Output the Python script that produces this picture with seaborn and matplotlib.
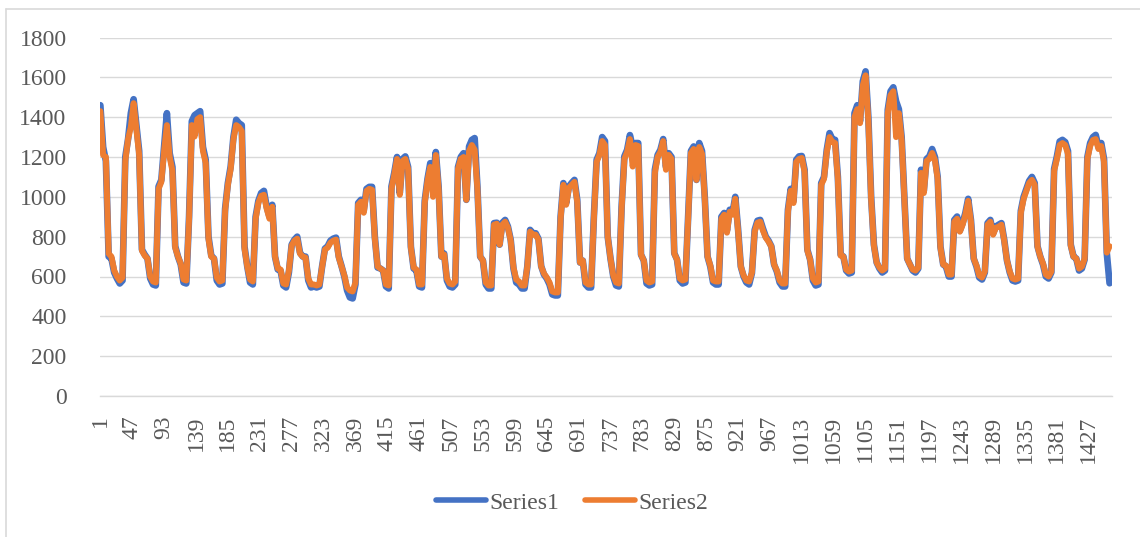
import numpy as np
import pandas as pd
import matplotlib
matplotlib.use("Agg")
import matplotlib.pyplot as plt
from matplotlib.lines import Line2D
import seaborn as sns

# Half-hourly load readings, one row per day (every 4th reading kept)
series1 = [
    1460, 1250, 1180, 700, 690, 620, 590, 565, 580, 1200, 1290, 1420,
    1490, 1360, 1230, 735, 710, 690, 590, 560, 555, 1052, 1085, 1250,
    1420, 1219, 1150, 752, 700, 660, 570, 565, 900, 1380, 1410, 1420,
    1430, 1250, 1186, 800, 705, 690, 580, 560, 565, 940, 1069, 1152,
    1300, 1387, 1370, 1360, 750, 650, 570, 560, 900, 980, 1019, 1030,
    950, 900, 960, 700, 635, 630, 555, 545, 620, 760, 785, 800,
    720, 700, 700, 580, 545, 550, 545, 550, 652, 740, 752, 780,
    790, 795, 700, 652, 600, 530, 495, 490, 560, 969, 985, 930,
    1040, 1050, 1050, 800, 645, 640, 630, 550, 540, 1052, 1120, 1200,
    1019, 1190, 1203, 1150, 750, 640, 630, 550, 545, 980, 1090, 1169,
    1100, 1225, 1050, 700, 715, 580, 550, 545, 560, 1150, 1200, 1219,
    985, 1253, 1286, 1295, 1050, 700, 680, 560, 540, 540, 868, 870,
    760, 870, 884, 851, 785, 640, 570, 560, 540, 540, 650, 834,
    817, 817, 790, 652, 610, 590, 560, 510, 505, 505, 900, 1069,
    969, 1052, 1070, 1085, 985, 670, 680, 560, 545, 545, 900, 1186,
    1219, 1300, 1280, 800, 690, 600, 555, 550, 950, 1203, 1236, 1310,
    1250, 1270, 1270, 710, 680, 565, 555, 560, 1136, 1210, 1236, 1290,
    1150, 1219, 1200, 717, 685, 580, 565, 570, 900, 1230, 1253, 1085,
    1270, 1230, 1000, 700, 650, 570, 560, 560, 900, 919, 830, 935,
    919, 1000, 840, 650, 600, 570, 560, 617, 834, 880, 884, 840,
    800, 780, 752, 660, 625, 570, 550, 550, 935, 1040, 980, 1186,
    1203, 1205, 1136, 735, 685, 580, 555, 560, 1069, 1100, 1236, 1320,
    1290, 1286, 1100, 710, 700, 630, 615, 620, 1420, 1460, 1380, 1580,
    1630, 1400, 1000, 760, 670, 640, 620, 630, 1437, 1530, 1550, 1480,
    1440, 1300, 1000, 690, 660, 630, 620, 640, 1136, 1030, 1190, 1203,
    1240, 1200, 1100, 750, 660, 650, 600, 600, 884, 901, 830, 868,
    920, 990, 884, 690, 650, 595, 585, 620, 868, 884, 817, 851,
    860, 868, 785, 680, 620, 580, 575, 580, 930, 1000, 1040, 1080,
    1100, 1069, 752, 700, 660, 600, 590, 620, 1140, 1203, 1278, 1286,
    1275, 1230, 760, 700, 690, 630, 640, 685, 1200, 1270, 1300, 1311,
    1250, 1270, 1190, 717, 566,
]

series2 = [
    1430, 1210, 1200, 715, 700, 630, 600, 580, 595, 1180, 1290, 1350,
    1470, 1340, 1210, 730, 705, 690, 600, 575, 570, 1040, 1075, 1230,
    1360, 1200, 1130, 745, 700, 665, 585, 580, 890, 1360, 1303, 1390,
    1400, 1230, 1170, 790, 700, 690, 595, 575, 580, 930, 1060, 1140,
    1290, 1360, 1350, 1330, 740, 650, 585, 575, 890, 970, 1005, 1010,
    940, 890, 950, 700, 640, 635, 565, 560, 630, 755, 780, 790,
    715, 700, 695, 590, 560, 560, 555, 560, 650, 735, 745, 770,
    780, 785, 695, 650, 605, 545, 530, 525, 570, 960, 975, 920,
    1030, 1040, 1035, 790, 650, 640, 630, 560, 555, 1040, 1110, 1190,
    1010, 1180, 1190, 1140, 745, 645, 635, 560, 560, 970, 1080, 1150,
    1000, 1210, 1040, 700, 710, 590, 565, 560, 575, 1140, 1190, 1200,
    985, 1230, 1260, 1236, 1040, 700, 680, 570, 555, 555, 860, 865,
    760, 860, 875, 845, 780, 645, 585, 575, 555, 555, 650, 825,
    810, 810, 785, 650, 615, 595, 570, 525, 520, 520, 890, 1060,
    960, 1045, 1060, 1075, 975, 670, 680, 570, 560, 560, 890, 1175,
    1210, 1280, 1260, 800, 690, 605, 570, 565, 940, 1190, 1225, 1290,
    1152, 1260, 1255, 710, 680, 580, 570, 575, 1120, 1200, 1225, 1280,
    1136, 1210, 1190, 715, 685, 590, 580, 585, 890, 1220, 1240, 1085,
    1250, 1215, 990, 700, 655, 580, 575, 575, 890, 910, 820, 925,
    910, 990, 830, 650, 605, 580, 575, 620, 825, 870, 875, 830,
    795, 775, 750, 660, 630, 580, 565, 565, 925, 1030, 969, 1175,
    1190, 1195, 1125, 730, 685, 590, 570, 575, 1060, 1090, 1225, 1300,
    1275, 1270, 1090, 705, 700, 635, 625, 630, 1400, 1440, 1370, 1560,
    1610, 1380, 990, 755, 670, 645, 630, 640, 1420, 1510, 1530, 1300,
    1420, 1285, 990, 690, 660, 635, 630, 645, 1120, 1019, 1180, 1190,
    1220, 1185, 1090, 745, 660, 655, 610, 610, 875, 890, 825, 860,
    910, 980, 875, 690, 655, 605, 595, 625, 860, 875, 810, 845,
    850, 860, 780, 680, 625, 590, 585, 590, 920, 990, 1030, 1070,
    1085, 1060, 750, 700, 665, 610, 600, 625, 1130, 1190, 1260, 1270,
    1260, 1215, 755, 700, 690, 640, 650, 690, 1190, 1255, 1285, 1290,
    1240, 1255, 1175, 720, 752,
]

reading_no = list(range(1, 1461, 4))
x_tick_labels = list(range(1, 1461, 46))
y_ticks = list(range(0, 1801, 200))
series_names = ["Series1", "Series2"]
colors = ["#4472C4", "#ED7D31"]
line_widths = [4.8, 4.3]

df = pd.DataFrame({
    "reading": reading_no * 2,
    "value": series1 + series2,
    "series": [series_names[0]] * len(series1) + [series_names[1]] * len(series2),
})

sns.set_theme(style="white")
plt.rcParams["font.family"] = ["Liberation Serif", "DejaVu Serif"]
label_color = "#595959"
grid_color = "#D9D9D9"

W, H = 1140, 537
fig = plt.figure(figsize=(W / 100, H / 100), dpi=100)
ax = fig.add_axes([100 / W, 1 - 396 / H, 1012 / W, (396 - 37.5) / H])

sns.lineplot(
    data=df, x="reading", y="value", hue="series",
    palette=dict(zip(series_names, colors)), estimator=None, sort=False,
    legend=False, ax=ax,
)
for line, lw in zip(ax.get_lines(), line_widths):
    line.set_linewidth(lw)
    line.set_solid_joinstyle("round")
    line.set_solid_capstyle("round")

ax.set_xlim(0.5, 1460.5)
ax.set_ylim(0, 1800)
ax.set_yticks(y_ticks)
ax.set_yticklabels([str(v) for v in y_ticks])
ax.set_xticks(x_tick_labels)
ax.set_xticklabels([str(v) for v in x_tick_labels], rotation=90, va="top")
ax.tick_params(axis="both", length=0, labelsize=17, colors=label_color)
ax.tick_params(axis="y", pad=24)
ax.tick_params(axis="x", pad=14)
ax.set_xlabel("")
ax.set_ylabel("")

ax.yaxis.grid(True, color=grid_color, linewidth=1.0)
ax.xaxis.grid(False)
ax.set_axisbelow(True)
for side in ["top", "right", "left"]:
    ax.spines[side].set_visible(False)
ax.spines["bottom"].set_color(grid_color)
ax.spines["bottom"].set_linewidth(1.0)

handles = [Line2D([0], [0], color=c, linewidth=4.0, solid_capstyle="round") for c in colors]
fig.legend(
    handles, series_names, loc="center", bbox_to_anchor=(0.502, 1 - 503 / H),
    ncol=2, frameon=False, fontsize=17, labelcolor=label_color,
    handlelength=2.1, handletextpad=0.15, columnspacing=1.1,
)

# Chart-area frame edges
fig.add_artist(Line2D([6 / W, 6 / W], [0, 1 - 9 / H], color=grid_color, linewidth=1.2))
fig.add_artist(Line2D([6 / W, 1], [1 - 9 / H, 1 - 9 / H], color=grid_color, linewidth=1.2))

fig.savefig("out.png", dpi=100, facecolor="white")
